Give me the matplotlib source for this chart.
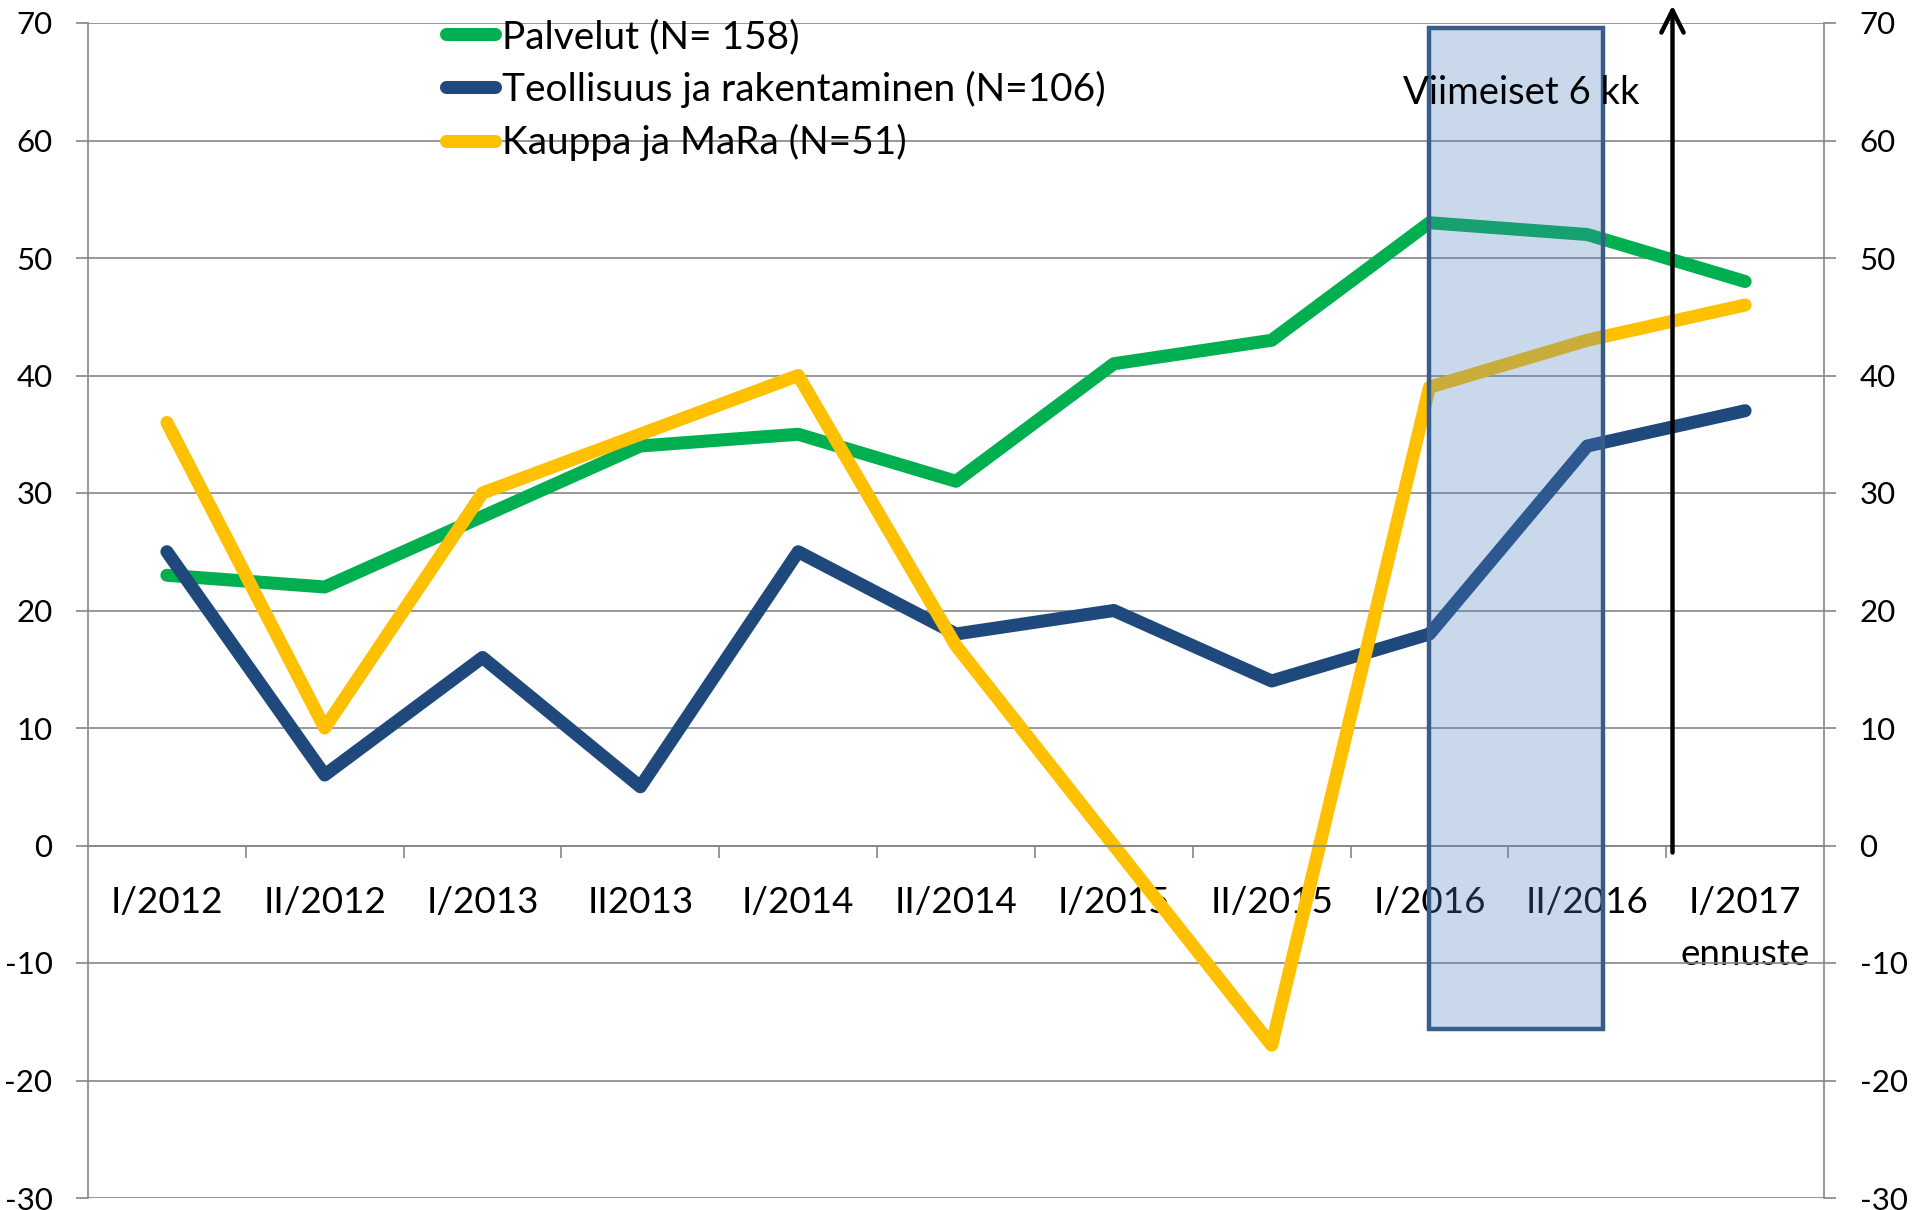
import numpy as np
import matplotlib
matplotlib.use("Agg")
import matplotlib.pyplot as plt
from matplotlib.patches import Rectangle

plt.rcParams['font.family'] = ['Lato', 'DejaVu Sans']
plt.rcParams['axes.unicode_minus'] = False

categories = ["I/2012", "II/2012", "I/2013", "II2013", "I/2014", "II/2014",
              "I/2015", "II/2015", "I/2016", "II/2016", "I/2017\nennuste"]
palvelut = [23, 22, 28, 34, 35, 31, 41, 43, 53, 52, 48]
teollisuus = [25, 6, 16, 5, 25, 18, 20, 14, 18, 34, 37]
kauppa = [36, 10, 30, 35, 40, 17, 0, -17, 39, 43, 46]
series_labels = ["Palvelut (N= 158)", "Teollisuus ja rakentaminen (N=106)",
                 "Kauppa ja MaRa (N=51)"]
series_colors = ["#00B050", "#1F497D", "#FFC000"]
y_ticks = list(range(-30, 71, 10))

W, H = 1915, 1210
fig = plt.figure(figsize=(W / 100, H / 100), dpi=100)
ax = fig.add_axes([88 / W, 12 / H, 1736 / W, 1175 / H])

grey = "#868686"
x = np.arange(len(categories))
lines = []
for vals, lab, col in zip([palvelut, teollisuus, kauppa], series_labels, series_colors):
    ln, = ax.plot(x, vals, color=col, lw=9.4, solid_capstyle='round',
                  solid_joinstyle='round', label=lab, zorder=2)
    lines.append(ln)

ax.set_xlim(-0.5, len(categories) - 0.5)
ax.set_ylim(-30, 70)

# spines
ax.spines['top'].set_visible(False)
for s in ['left', 'right', 'bottom']:
    ax.spines[s].set_color(grey)
    ax.spines[s].set_linewidth(1.2)
ax.spines['bottom'].set_position(('data', 0))

# y axis
ax.set_yticks(y_ticks)
ax.yaxis.grid(True, color=grey, lw=1.2)
ax.tick_params(axis='y', which='major', direction='out', length=8.6, width=1.2,
               color=grey, left=True, right=True, labelleft=True, labelright=True,
               labelsize=22.5, pad=17)

# x axis
ax.set_xticks(x)
ax.set_xticklabels(categories)
ax.set_xticks(x[:-1] + 0.5, minor=True)
ax.tick_params(axis='x', which='major', length=0, labelsize=26.5, pad=29)
ax.tick_params(axis='x', which='minor', direction='out', length=8.6, width=1.2, color=grey)
for t in ax.get_xticklabels():
    t.set_linespacing(1.7)

# highlight box (last 6 months)
rect = Rectangle((8.0, -15.6), 1.1, 85.2, facecolor=(0.31, 0.506, 0.741, 0.3),
                 edgecolor="#385D8A", lw=3.2, zorder=3, clip_on=False)
ax.add_patch(rect)
ax.text(7.83, 63.1, "Viimeiset 6 kk", fontsize=27.5, ha='left', va='baseline', zorder=4)

# forecast arrow
ax.annotate("", xy=(9.54, 71.5), xytext=(9.54, -0.6),
            arrowprops=dict(arrowstyle='->,head_length=0.4,head_width=0.2',
                            lw=3.2, color='black', mutation_scale=40,
                            shrinkA=0, shrinkB=0, clip_on=False),
            annotation_clip=False, zorder=5)

# legend
leg = ax.legend(handles=lines, loc='upper left',
                bbox_to_anchor=(446 / W, 1 - 19 / H), bbox_transform=fig.transFigure,
                frameon=False, fontsize=28, handlelength=1.26, handletextpad=0.19,
                labelspacing=0.41, borderpad=0, borderaxespad=0)

fig.savefig("out.png", dpi=100)
